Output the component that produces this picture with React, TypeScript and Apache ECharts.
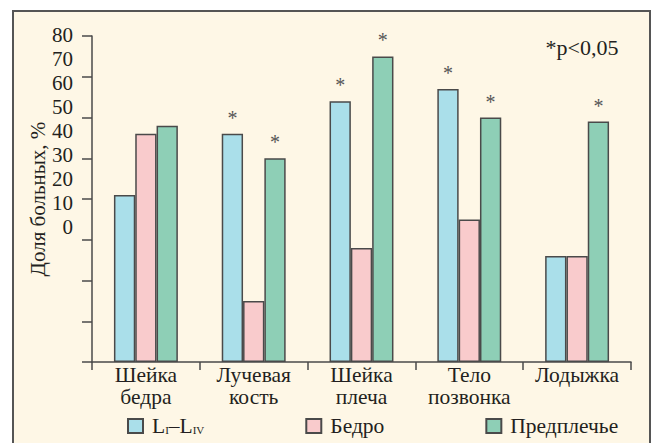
import React, { useEffect, useRef } from "react";
import * as echarts from "echarts";

const categories = ["Шейка\nбедра", "Лучевая\nкость", "Шейка\nплеча", "Тело\nпозвонка", "Лодыжка"];
const seriesNames = ["LI–LIV", "Бедро", "Предплечье"];
const lumbarValues = [41, 56, 64, 67, 26];
const hipValues = [56, 15, 28, 35, 26];
const forearmValues = [58, 50, 75, 60, 59];
const lumbarSig = [false, true, true, true, false];
const hipSig = [false, false, false, false, false];
const forearmSig = [false, true, true, true, true];
const yTicks = { min: 0, max: 80, interval: 10 };
const noteText = "*p<0,05";
const yTitle = "Доля больных, %";

const FONT = "Liberation Serif, Times New Roman, serif";
const TEXT = "#231f20";
const EDGE = "#4a4a4a";
const colors = ["#aadfea", "#f9cbcc", "#8ecfb6"];

export default function App() {
  const ref = useRef<HTMLDivElement>(null);
  useEffect(() => {
    document.body.style.margin = "0";
    const chart = echarts.init(ref.current!, null, { renderer: "svg" });
    const values = [lumbarValues, hipValues, forearmValues];
    const sigs = [lumbarSig, hipSig, forearmSig];
    chart.setOption({
      animation: false,
      backgroundColor: "#ffffff",
      textStyle: { fontFamily: FONT },
      graphic: [
        {
          type: "rect",
          z: -10,
          silent: true,
          shape: { x: 13, y: 11, width: 637, height: 445 },
          style: { fill: "#fef7e6", stroke: "#555555", lineWidth: 2 },
        },
        {
          type: "text",
          z: 10,
          x: 582,
          y: 47,
          style: {
            text: noteText,
            fontSize: 22,
            fontFamily: FONT,
            fill: TEXT,
            align: "center",
            verticalAlign: "middle",
          },
        },
      ],
      grid: [
        { left: 92, right: 22, top: 36, bottom: 81 },
        { left: 92, width: 10, top: 35, bottom: 216 },
      ],
      xAxis: [
        {
          type: "category",
          gridIndex: 0,
          data: categories,
          axisLine: { lineStyle: { color: EDGE, width: 1.5 } },
          axisTick: { show: true, length: 8, lineStyle: { color: EDGE, width: 1.5 } },
          axisLabel: { interval: 0, color: TEXT, fontSize: 21.5, lineHeight: 22, margin: 2, fontFamily: FONT },
        },
        { type: "value", gridIndex: 1, show: false },
      ],
      yAxis: [
        {
          type: "value",
          gridIndex: 0,
          ...yTicks,
          name: yTitle,
          nameLocation: "middle",
          nameGap: 44,
          nameTextStyle: { color: TEXT, fontSize: 21, fontFamily: FONT },
          axisLine: { show: true, lineStyle: { color: EDGE, width: 1.5 } },
          axisTick: { show: true, length: 10, lineStyle: { color: EDGE, width: 1.5 } },
          axisLabel: { show: false },
          splitLine: { show: false },
        },
        {
          type: "value",
          gridIndex: 1,
          ...yTicks,
          axisLine: { show: false },
          axisTick: { show: false },
          splitLine: { show: false },
          axisLabel: { color: TEXT, fontSize: 21, margin: 19, fontFamily: FONT },
        },
      ],
      legend: {
        left: 127,
        top: 415,
        padding: 0,
        itemWidth: 15,
        itemHeight: 14,
        itemGap: 101,
        icon: "rect",
        data: seriesNames,
        formatter: (name: string) =>
          name === seriesNames[0] ? "{a|L}{s|I}{a|–L}{s|IV}" : name,
        textStyle: {
          color: TEXT,
          fontSize: 21.5,
          fontFamily: FONT,
          padding: [0, 0, 0, 4],
          rich: {
            a: { fontSize: 21.5, fontFamily: FONT, color: TEXT },
            s: { fontSize: 11, fontFamily: FONT, color: TEXT, verticalAlign: "bottom", padding: [0, 0, 2, 0] },
          },
        },
      },
      series: seriesNames.map((name, si) => ({
        name,
        type: "bar",
        xAxisIndex: 0,
        yAxisIndex: 0,
        data: values[si],
        barGap: "0%",
        barCategoryGap: "40.7%",
        itemStyle: { color: colors[si], borderColor: EDGE, borderWidth: 1.5 },
        label: {
          show: true,
          position: "top",
          distance: 6,
          color: "#555555",
          fontSize: 20,
          fontFamily: FONT,
          formatter: (p: any) => (sigs[si][p.dataIndex] ? "*" : ""),
        },
      })),
    });
    return () => chart.dispose();
  }, []);
  return <div ref={ref} style={{ width: 653, height: 443 }} />;
}
